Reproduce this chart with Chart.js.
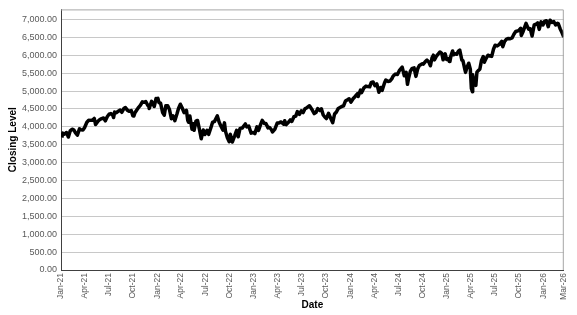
<!DOCTYPE html>
<html lang="en">
<head>
  <meta charset="UTF-8">
  <title>Closing Level</title>
  <script src="https://cdn.jsdelivr.net/npm/chart.js"></script>
  <style>
    body { margin: 0; background: #fff; }
  </style>
</head>
<body>
  <canvas id="closeChart" width="577" height="315"></canvas>

  <script>
    // closing levels (month-day per year)
    const days2021 = ['01-04','01-08','01-14','01-22','01-29','02-05','02-12','02-19','02-25','03-04','03-12','03-18','03-25','03-31','04-09','04-16','04-23','04-30','05-07','05-12','05-21','05-28','06-04','06-11','06-18','06-25','07-02','07-09','07-16','07-19','07-23','07-30','08-06','08-13','08-19','08-27','09-02','09-10','09-17','09-24','09-30','10-04','10-08','10-15','10-22','10-29','11-05','11-12','11-18','11-26','11-30','12-01','12-10','12-17','12-20','12-27','12-31'];
    const close2021 = [3700,3824,3795,3841,3714,3887,3934,3907,3829,3768,3943,3915,3909,3973,4129,4185,4180,4181,4233,4063,4156,4204,4230,4247,4166,4281,4352,4370,4327,4258,4412,4395,4437,4468,4406,4509,4537,4459,4433,4455,4308,4300,4391,4471,4545,4605,4697,4683,4704,4595,4567,4513,4712,4620,4568,4791,4766];

    const days2022 = ['01-03','01-07','01-13','01-21','01-27','02-02','02-09','02-16','02-23','03-01','03-08','03-16','03-22','03-29','04-05','04-12','04-21','04-26','04-29','05-04','05-12','05-17','05-20','05-27','06-02','06-10','06-16','06-24','06-30','07-08','07-14','07-22','07-29','08-05','08-16','08-23','08-29','09-06','09-12','09-16','09-23','09-30','10-04','10-12','10-21','10-28','11-03','11-10','11-18','11-30','12-05','12-13','12-22','12-30'];
    const close2022 = [4796,4677,4659,4398,4326,4589,4587,4475,4225,4306,4170,4358,4512,4631,4525,4397,4460,4175,4132,4300,3930,4088,3901,4158,4177,3901,3667,3912,3785,3899,3790,3962,4130,4145,4305,4128,4031,3909,4110,3873,3693,3586,3791,3577,3752,3901,3720,3956,3965,4080,3999,4019,3822,3840];

    const days2023 = ['01-05','01-13','01-19','01-27','02-02','02-10','02-16','02-24','03-02','03-09','03-13','03-22','03-31','04-06','04-14','04-25','04-28','05-04','05-12','05-19','05-25','06-02','06-09','06-15','06-23','06-30','07-07','07-14','07-21','07-31','08-08','08-18','08-25','08-31','09-08','09-14','09-21','09-27','10-03','10-11','10-20','10-27','11-03','11-10','11-17','11-30','12-07','12-14','12-22','12-28'];
    const close2023 = [3808,3999,3899,4070,4179,4090,4090,3970,3981,3918,3855,3937,4109,4105,4137,4071,4169,4061,4124,4192,4151,4282,4299,4426,4348,4450,4399,4505,4536,4589,4499,4370,4406,4508,4457,4505,4330,4274,4229,4377,4224,4117,4358,4415,4514,4568,4585,4720,4755,4783];

    const days2024 = ['01-04','01-12','01-19','01-29','01-31','02-09','02-13','02-22','03-01','03-08','03-15','03-21','03-28','04-04','04-11','04-19','04-26','05-01','05-10','05-15','05-23','05-31','06-07','06-12','06-20','06-28','07-05','07-16','07-24','07-31','08-05','08-09','08-16','08-23','08-30','09-06','09-13','09-19','09-30','10-04','10-11','10-18','10-25','10-31','11-06','11-11','11-15','11-22','11-29','12-06','12-13','12-18','12-26','12-31'];
    const close2024 = [4688,4784,4840,4928,4846,5027,4954,5087,5137,5124,5117,5241,5254,5147,5199,4967,5100,5018,5223,5308,5268,5278,5347,5421,5473,5460,5567,5667,5427,5522,5186,5344,5554,5634,5648,5408,5626,5713,5762,5751,5815,5864,5808,5705,5929,6001,5870,5969,6032,6090,6051,5872,6037,5882];

    const days2025 = ['01-07','01-10','01-13','01-17','01-23','01-27','01-31','02-07','02-14','02-19','02-27','03-03','03-10','03-13','03-19','03-25','03-31','04-04','04-08','04-09','04-11','04-21','04-25','04-30','05-06','05-12','05-19','05-23','05-30','06-06','06-13','06-20','06-27','07-03','07-11','07-18','07-28','08-01','08-08','08-15','08-22','08-29','09-05','09-12','09-19','09-30','10-08','10-10','10-17','10-28','11-04','11-07','11-13','11-20','11-28','12-05','12-11','12-17','12-24','12-31'];
    const close2025 = [5909,5827,5836,5997,6119,6012,6040,6026,6115,6144,5861,5849,5615,5521,5675,5777,5611,5074,4982,5457,5363,5158,5525,5569,5607,5844,5963,5803,5912,6000,5977,5967,6173,6279,6260,6297,6389,6238,6389,6450,6467,6460,6482,6584,6664,6688,6753,6552,6664,6890,6771,6729,6737,6538,6849,6870,6901,6721,6932,6845];

    const days2026 = ['01-06','01-13','01-20','01-27','02-03','02-10','02-17','02-24','02-27','03-06','03-13','03-20'];
    const close2026 = [6944,6963,6797,6978,6917,6941,6843,6890,6880,6740,6632,6506];

    // axis labels
    const tickDates = ['2021-01-01','2021-04-01','2021-07-01','2021-10-01','2022-01-01','2022-04-01','2022-07-01','2022-10-01','2023-01-01','2023-04-01','2023-07-01','2023-10-01','2024-01-01','2024-04-01','2024-07-01','2024-10-01','2025-01-01','2025-04-01','2025-07-01','2025-10-01','2026-01-01','2026-03-20'];
    const tickLabels = ['Jan-21','Apr-21','Jul-21','Oct-21','Jan-22','Apr-22','Jul-22','Oct-22','Jan-23','Apr-23','Jul-23','Oct-23','Jan-24','Apr-24','Jul-24','Oct-24','Jan-25','Apr-25','Jul-25','Oct-25','Jan-26','Mar-26'];
    const yTicks = [0,500,1000,1500,2000,2500,3000,3500,4000,4500,5000,5500,6000,6500,7000];

    const base = Date.UTC(2021, 0, 1);
    function dayNum(str) {
      const p = str.split('-').map(Number);
      return (Date.UTC(p[0], p[1] - 1, p[2]) - base) / 86400000;
    }

    const years = [
      [2021, days2021, close2021], [2022, days2022, close2022], [2023, days2023, close2023],
      [2024, days2024, close2024], [2025, days2025, close2025], [2026, days2026, close2026]
    ];
    const points = [];
    years.forEach(([yr, ds, vs]) => {
      ds.forEach((d, i) => points.push({ x: dayNum(yr + '-' + d), y: vs[i] }));
    });

    const tickDays = tickDates.map(dayNum);

    // grey frame on top and right of plot area
    const plotFrame = {
      id: 'plotFrame',
      afterDraw(chart) {
        const { ctx, chartArea: a } = chart;
        ctx.save();
        ctx.strokeStyle = '#a6a6a6';
        ctx.lineWidth = 1;
        ctx.beginPath();
        ctx.moveTo(a.left, a.top + 0.5);
        ctx.lineTo(a.right - 0.5, a.top + 0.5);
        ctx.lineTo(a.right - 0.5, a.bottom);
        ctx.stroke();
        ctx.restore();
      }
    };

    const ctx = document.getElementById('closeChart').getContext('2d');
    new Chart(ctx, {
      type: 'line',
      data: {
        datasets: [{
          label: 'Closing Level',
          data: points,
          borderColor: '#000',
          borderWidth: 3.5,
          borderJoinStyle: 'round',
          pointRadius: 0,
          tension: 0,
          fill: false
        }]
      },
      options: {
        responsive: false,
        animation: false,
        layout: { padding: { top: 3, right: 5, left: 0, bottom: 0 } },
        plugins: {
          legend: { display: false },
          tooltip: { enabled: false }
        },
        scales: {
          x: {
            type: 'linear',
            min: 0,
            max: tickDays[tickDays.length - 1],
            afterBuildTicks: scale => { scale.ticks = tickDays.map(v => ({ value: v })); },
            afterFit: scale => { scale.height = 45; },
            grid: { display: false, drawTicks: false },
            border: { color: '#404040', width: 1 },
            ticks: {
              autoSkip: false,
              maxRotation: 90,
              minRotation: 90,
              padding: 3,
              color: '#595959',
              font: { family: 'Liberation Sans', size: 8.5 },
              callback: (v, i) => tickLabels[i]
            },
            title: {
              display: true,
              text: 'Date',
              color: '#000',
              padding: { top: 0, bottom: 4 },
              font: { family: 'Liberation Sans', size: 10, weight: 'bold' }
            }
          },
          y: {
            min: 0,
            max: 7280,
            afterBuildTicks: scale => { scale.ticks = yTicks.map(v => ({ value: v })); },
            afterFit: scale => { scale.width = 61; },
            grid: { color: '#c8c8c8', drawTicks: false },
            border: { color: '#404040', width: 1 },
            ticks: {
              padding: 4,
              color: '#595959',
              font: { family: 'Liberation Sans', size: 9 },
              callback: v => v.toLocaleString('en-US', { minimumFractionDigits: 2, maximumFractionDigits: 2 })
            },
            title: {
              display: true,
              text: 'Closing Level',
              color: '#000',
              padding: { top: 7, bottom: 0 },
              font: { family: 'Liberation Sans', size: 10, weight: 'bold' }
            }
          }
        }
      },
      plugins: [plotFrame]
    });
  </script>
</body>
</html>
